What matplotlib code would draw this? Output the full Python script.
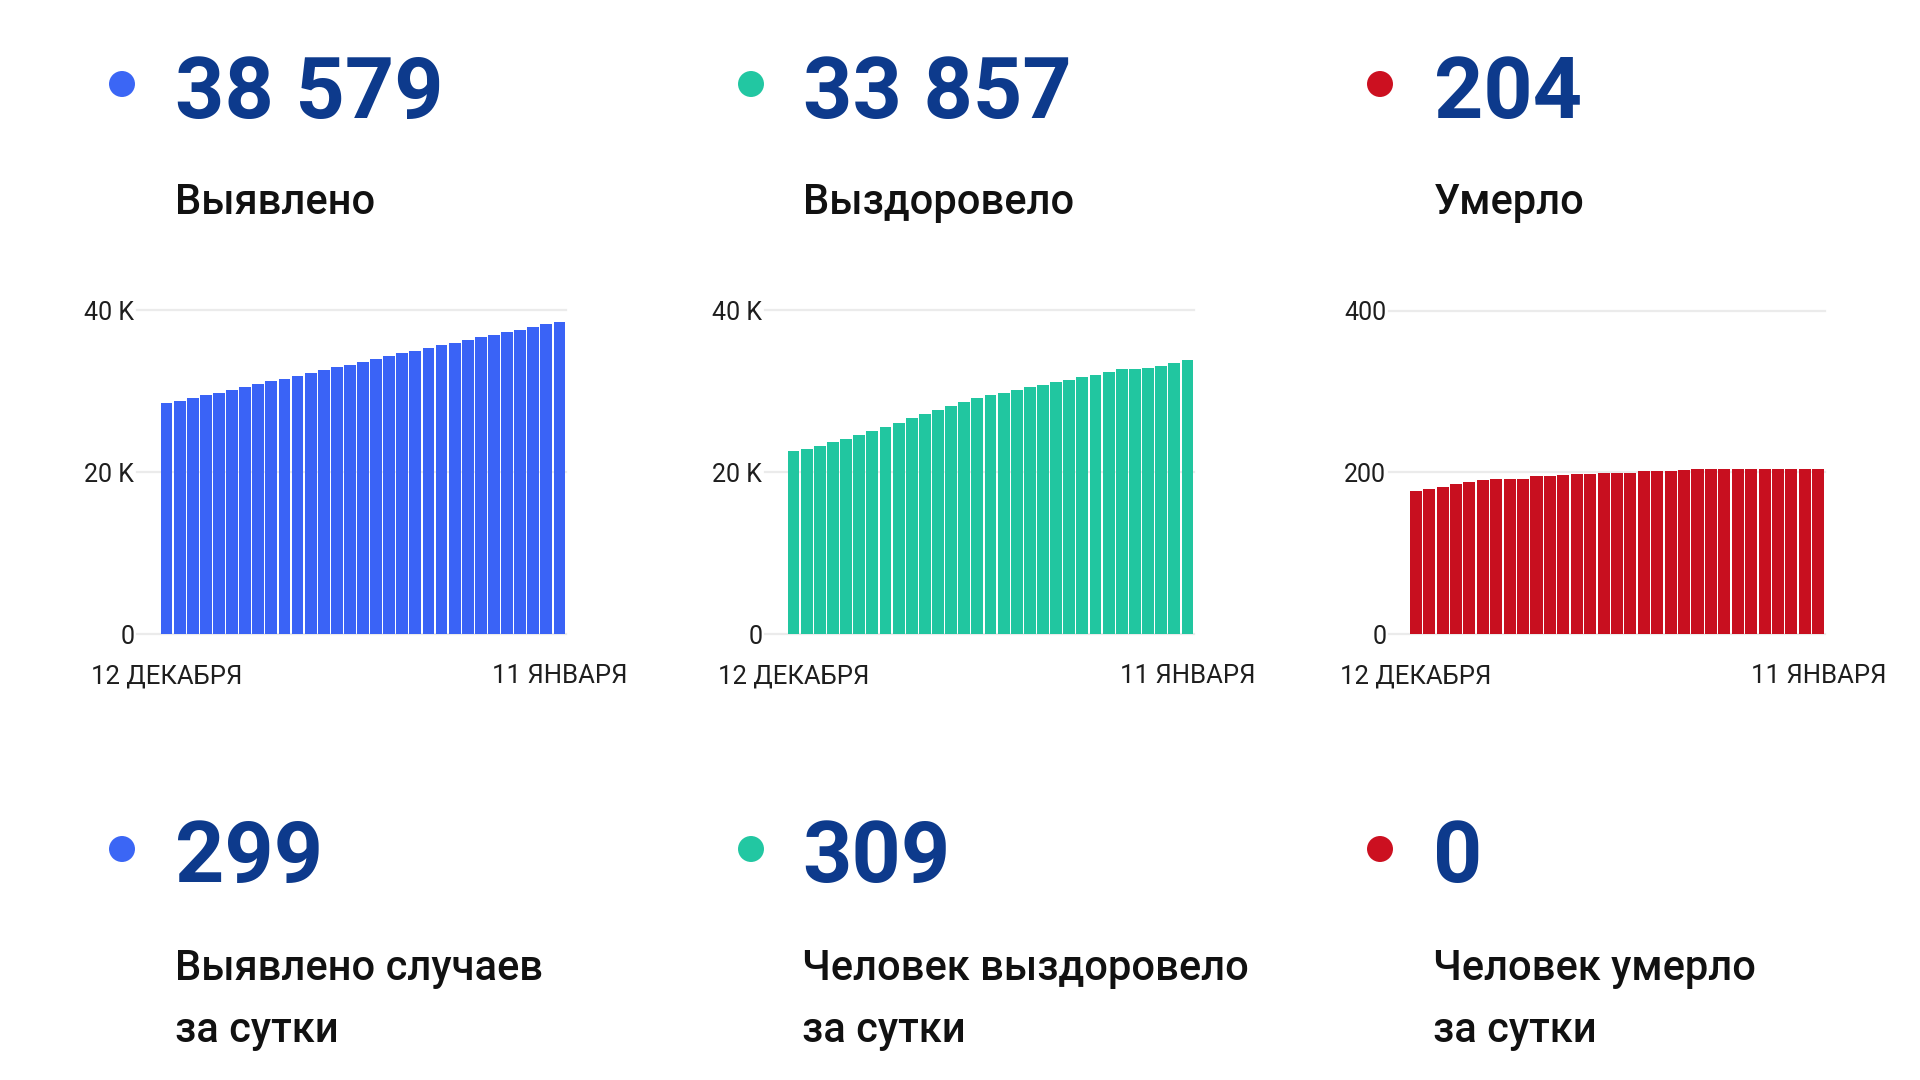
import matplotlib
matplotlib.use("Agg")
import matplotlib.pyplot as plt
import matplotlib.transforms as mtransforms

plt.rcParams['font.family'] = ['Roboto', 'DejaVu Sans']

# ---------------- data ----------------
days = list(range(31))
date_labels = ["12 ДЕКАБРЯ", "11 ЯНВАРЯ"]

detected = [28536, 28866, 29237, 29567, 29856, 30227, 30598, 30928, 31258, 31588,
            31918, 32247, 32619, 32990, 33320, 33691, 34021, 34351, 34722, 35052,
            35381, 35711, 36041, 36371, 36701, 37031, 37320, 37608, 37938, 38280, 38579]
recovered = [22639, 22845, 23258, 23711, 24165, 24660, 25155, 25649, 26144, 26680,
             27175, 27670, 28165, 28660, 29196, 29567, 29773, 30144, 30515, 30845,
             31216, 31464, 31794, 32082, 32454, 32784, 32825, 32840, 33113, 33548, 33857]
deaths = [177, 179, 182, 185, 188, 190, 192, 192, 192, 195,
          195, 197, 198, 198, 199, 199, 199, 201, 201, 202,
          203, 204, 204, 204, 204, 204, 204, 204, 204, 204, 204]

totals = ["38 579", "33 857", "204"]
total_labels = ["Выявлено", "Выздоровело", "Умерло"]
daily = ["299", "309", "0"]
daily_labels = [["Выявлено случаев", "за сутки"],
                ["Человек выздоровело", "за сутки"],
                ["Человек умерло", "за сутки"]]

yticks_vals = [[0, 20000, 40000], [0, 20000, 40000], [0, 200, 400]]
yticks_text = [["0", "20 K", "40 K"], ["0", "20 K", "40 K"], ["0", "200", "400"]]

series = [detected, recovered, deaths]
bar_colors = ["#3a63f6", "#21c6a0", "#c80f1f"]
dot_colors = ["#3b66f5", "#22c7a2", "#cc1020"]
num_color = "#0d3a8c"

# ---------------- layout (pixels) ----------------
W, H = 1920, 1080
fig = plt.figure(figsize=(19.2, 10.8), dpi=100)
fig.patch.set_facecolor("white")

def fx(x):
    return x / W

def fy(y):
    return 1 - y / H

# overlay for headline texts (pixel coordinates, y downward)
ov = fig.add_axes([0, 0, 1, 1], zorder=10)
ov.set_xlim(0, W)
ov.set_ylim(H, 0)
ov.axis("off")

# chart areas: (grid start, bar start, bar end)
chart_px = [(137, 160, 566), (765, 787, 1194), (1389, 1409, 1825)]
y0_px, ytop_px = 634, 310.5

for i, (gs, bs, be) in enumerate(chart_px):
    ax = fig.add_axes([fx(gs), fy(y0_px), (be - gs) / W, (y0_px - ytop_px) / H])
    slot = (be - bs) / 31.0
    pad = (bs - gs) / slot
    ax.bar(days, series[i], width=0.9, color=bar_colors[i], zorder=3)
    ax.set_xlim(-0.5 - pad, 30.5)
    ax.set_ylim(0, yticks_vals[i][-1])
    for v in yticks_vals[i]:
        ax.axhline(v, color="#ebebeb", lw=1.6, zorder=1, clip_on=False)
    ax.set_yticks(yticks_vals[i])
    ax.set_yticklabels(yticks_text[i])
    ax.set_xticks([])
    ax.tick_params(axis="y", length=0, pad=2, labelsize=18, labelcolor="#1e1e1e")
    for s in ax.spines.values():
        s.set_visible(False)
    ax.set_facecolor("none")
    tr = mtransforms.blended_transform_factory(ax.transData, ov.transData)
    for xd, lab in zip([0, 30], date_labels):
        ov.text(xd, 683, lab, transform=tr, fontsize=18.5, color="#1e1e1e",
                ha="center", va="baseline")

top_dots = [122, 751, 1380]
top_text_x = [175, 803, 1434]
bot_text_x = [175, 802, 1433]

for i in range(3):
    ov.scatter([top_dots[i]], [84], s=350, color=dot_colors[i], edgecolor="none")
    ov.text(top_text_x[i], 118, totals[i], fontsize=62, fontweight="bold",
            color=num_color, va="baseline", ha="left")
    ov.text(top_text_x[i], 214, total_labels[i], fontsize=30, fontweight="medium",
            color="#111111", va="baseline", ha="left")

    ov.scatter([top_dots[i]], [849], s=350, color=dot_colors[i], edgecolor="none")
    ov.text(bot_text_x[i], 882, daily[i], fontsize=62, fontweight="bold",
            color=num_color, va="baseline", ha="left")
    ov.text(bot_text_x[i], 980, daily_labels[i][0], fontsize=30, fontweight="medium",
            color="#111111", va="baseline", ha="left")
    ov.text(bot_text_x[i], 1042, daily_labels[i][1], fontsize=30, fontweight="medium",
            color="#111111", va="baseline", ha="left")

fig.savefig("out.png", dpi=100, facecolor="white")
